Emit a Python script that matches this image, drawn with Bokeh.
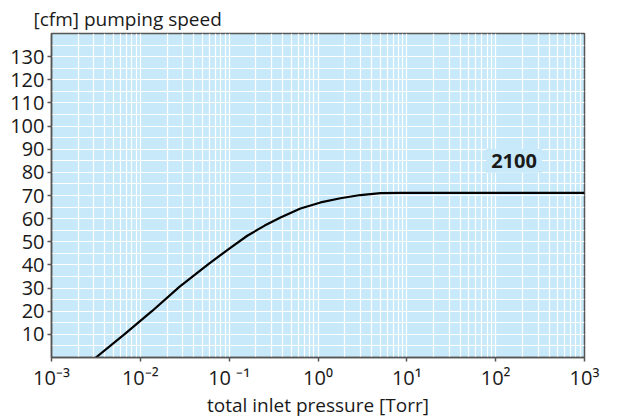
from bokeh.plotting import figure
from bokeh.models import FixedTicker, Label
from bokeh.embed import file_html
from bokeh.resources import INLINE

# ---- data ----
pressure_torr = [0.00316, 0.0066, 0.0135, 0.0275, 0.0589, 0.105, 0.16, 0.251,
                 0.378, 0.635, 1.07, 1.79, 3.0, 5.06, 8.5, 100, 1000]
speed_cfm = [0, 10, 20, 30.5, 40.5, 47.6, 52.6, 57.0,
             60.5, 64.4, 67.0, 68.8, 70.2, 71.0, 71.1, 71.1, 71.1]
x_decades = [1e-3, 1e-2, 1e-1, 1e0, 1e1, 1e2, 1e3]
x_tick_labels = ["10⁻³", "10⁻²", "10 ⁻¹", "10⁰", "10¹", "10²", "10³"]
y_ticks = [10, 20, 30, 40, 50, 60, 70, 80, 90, 100, 110, 120, 130]
y_minor = [5, 15, 25, 35, 45, 55, 65, 75, 85, 95, 105, 115, 125, 135]
model_label = "2100"
model_x, model_y = 161, 85

FONT = "Open Sans"
BG = "#C8E9F9"
TXT = "#1a1a1a"
AX = "#555555"

x_minor = [m * d for d in x_decades[:-1] for m in range(2, 10)]

p = figure(width=610, height=420, x_axis_type="log",
           x_range=(1e-3, 1e3), y_range=(0, 140),
           output_backend="svg", toolbar_location=None,
           background_fill_color=BG, border_fill_color="white",
           min_border_left=51, min_border_right=26,
           min_border_top=33, min_border_bottom=61)
p.outline_line_color = AX
p.outline_line_width = 1.5

p.title.text = "[cfm] pumping speed"
p.title.align = "left"
p.title.offset = -18
p.title.standoff = 3
p.title.text_font = FONT
p.title.text_font_size = "19px"
p.title.text_font_style = "normal"
p.title.text_color = TXT

p.xaxis.ticker = FixedTicker(ticks=x_decades, minor_ticks=x_minor)
p.yaxis.ticker = FixedTicker(ticks=y_ticks, minor_ticks=y_minor)

for g in (p.xgrid, p.ygrid):
    g.grid_line_color = "white"
    g.grid_line_width = 1.2
    g.minor_grid_line_color = "white"
    g.minor_grid_line_width = 1.2

for ax in (p.xaxis, p.yaxis):
    ax.axis_line_color = AX
    ax.axis_line_width = 1.5
    ax.major_tick_line_color = AX
    ax.major_tick_line_width = 1.5
    ax.major_tick_out = 4
    ax.major_tick_in = 0
    ax.minor_tick_line_color = None
    ax.major_label_text_font = FONT
    ax.major_label_text_font_size = "20px"
    ax.major_label_text_color = TXT

p.yaxis.major_label_standoff = 3
p.xaxis.major_label_standoff = 2
p.xaxis.major_label_overrides = dict(zip(x_decades, x_tick_labels))

p.xaxis.axis_label = "total inlet pressure [Torr]"
p.xaxis.axis_label_text_font = FONT
p.xaxis.axis_label_text_font_size = "19px"
p.xaxis.axis_label_text_font_style = "normal"
p.xaxis.axis_label_text_color = TXT
p.xaxis.axis_label_standoff = -2

p.line(pressure_torr, speed_cfm, line_color="black", line_width=2.2)

p.add_layout(Label(x=model_x, y=model_y, text=model_label, text_align="center",
                   text_baseline="alphabetic", text_font=FONT, text_font_size="20px",
                   text_font_style="bold", text_color=TXT,
                   background_fill_color=BG, padding=5))

open("out.html", "w").write(file_html(p, INLINE))
